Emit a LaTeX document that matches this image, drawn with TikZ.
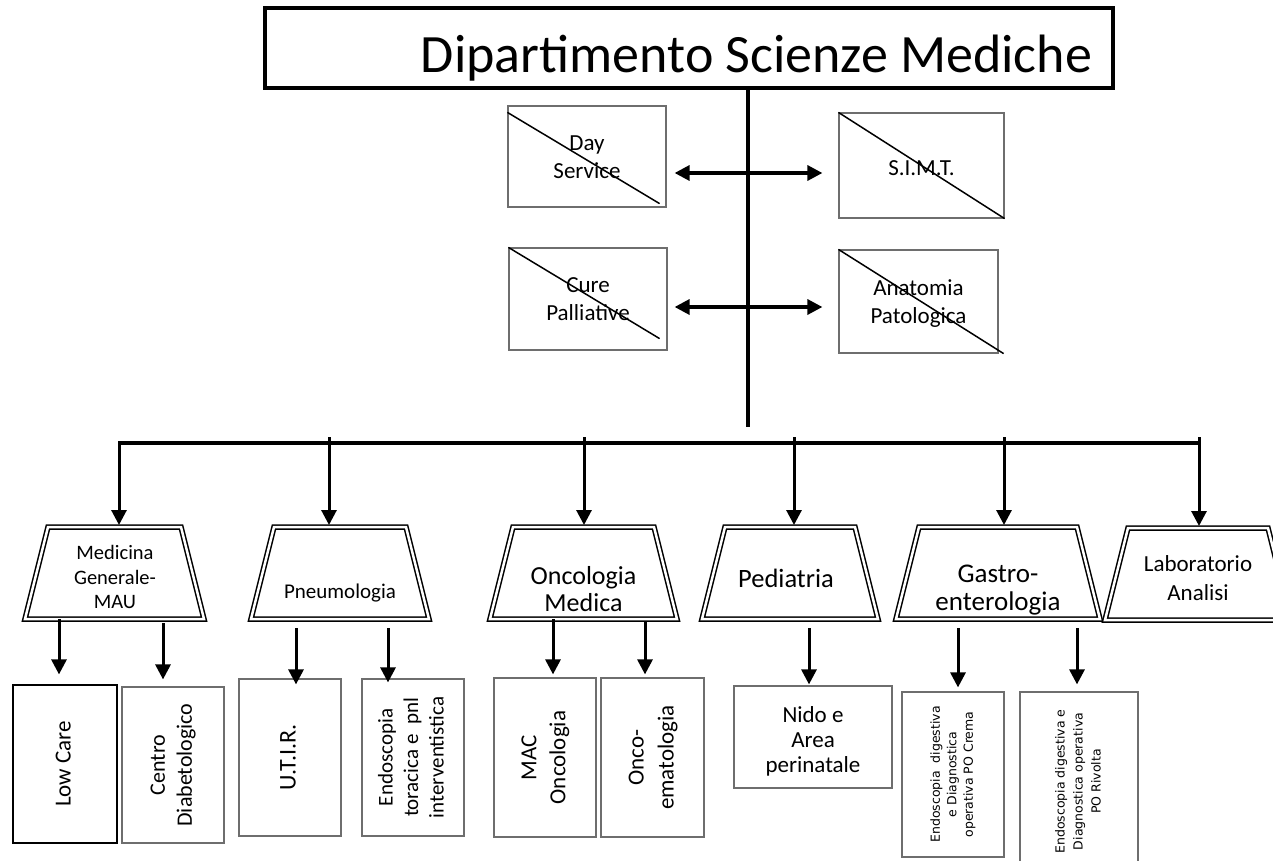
\documentclass[tikz,border=0pt]{standalone}
\usepackage{fontspec}
\usepackage{graphicx}
\setmainfont{Carlito}
\newfontfamily\widesans{DejaVu Sans}
\usetikzlibrary{arrows.meta,calc}
\definecolor{bordergray}{RGB}{110,110,110}
\newcommand{\vlabel}[1]{\rotatebox{90}{\begin{tabular}{@{}c@{}}#1\end{tabular}}}
\newcommand{\lowered}[2]{\raisebox{-#1}[\height][\depth]{\begin{tabular}{@{}c@{}}#2\end{tabular}}}
% name, centre x, centre y, half bottom width
\newcommand{\trapbox}[4]{%
  \coordinate (#1) at (#2,#3);
  \coordinate (#1-n) at (#2,#3-46);
  \coordinate (#1-s) at (#2,#3+46);
  \draw[trapline] (#2-#4+23,#3-46) -- (#2+#4-23,#3-46) -- (#2+#4,#3+46) -- (#2-#4,#3+46) -- cycle;
}
\begin{document}
\begin{tikzpicture}[x=1pt,y=-1pt,
  titlebox/.style={draw, line width=4pt, minimum width=848pt, minimum height=80pt, inner sep=0pt},
  crossbox/.style={draw=bordergray, line width=1.2pt, align=center, font=\fontsize{23}{28}\selectfont, inner sep=0pt},
  crossline/.style={line width=1.5pt},
  trapline/.style={draw, line width=1.5pt, double, double distance=2.5pt, line join=miter},
  traptext/.style={align=center, inner sep=0pt},
  leafbox/.style={draw=bordergray, line width=1.2pt, inner sep=0pt, align=center},
  vline/.style={line width=4.5pt},
  busline/.style={line width=4pt},
  arr/.style={line width=3pt, -{Triangle[width=15pt,length=15pt]}},
  darr/.style={line width=3.3pt, {Triangle[width=15pt,length=15pt]}-{Triangle[width=15pt,length=15pt]}},
]
\useasboundingbox (0,0) rectangle (1273,861);
\clip (0,0) rectangle (1273,861);
\fill[white] (0,0) rectangle (1273,861);

% title
\node[titlebox] (title) at (689,48) {};
\node[font=\fontsize{54}{64}\selectfont, anchor=base, inner sep=0pt] (titletext) at (756.5,73) {Dipartimento Scienze Mediche};

\coordinate (vend) at (748,427);
\draw[vline] (title.south -| vend) -- (vend);

% crossed boxes
\node[crossbox, minimum width=158pt, minimum height=101pt] (ds) at (587,156.5) {\lowered{2pt}{Day\\Service}};
\draw[crossline] ([yshift=-7pt]ds.north west) -- ([shift={(-7pt,4pt)}]ds.south east);
\node[crossbox, minimum width=165pt, minimum height=105pt] (simt) at (921.5,165.5) {\lowered{4pt}{S.I.M.T.}};
\draw[crossline] (simt.north west) -- (simt.south east);
\node[crossbox, minimum width=158pt, minimum height=102pt] (cp) at (588,299) {Cure\\Palliative};
\draw[crossline] (cp.north west) -- ([shift={(-8pt,12pt)}]cp.south east);
\node[crossbox, minimum width=159pt, minimum height=103pt] (ap) at (918.5,301.5) {\lowered{2pt}{Anatomia\\Patologica}};
\draw[crossline] (ap.north west) -- ([xshift=5pt]ap.south east);

\coordinate (a1) at (748,173);
\coordinate (a2) at (748,307);
\draw[darr] ($(a1 -| ds.east)+(8,0)$) -- ($(a1 -| simt.west)+(-16,0)$);
\draw[darr] ($(a2 -| cp.east)+(7,0)$) -- ($(a2 -| ap.west)+(-16,0)$);

% bus
\coordinate (busL) at (118,443);
\coordinate (busR) at (1201,443);
\draw[busline] (busL) -- (busR);

% trapezia
\trapbox{tMed}{114.5}{573}{89.5}
\trapbox{tPne}{340}{573}{89}
\trapbox{tOnc}{583.5}{573}{93.5}
\trapbox{tPed}{790}{573}{88}
\trapbox{tGas}{998}{573}{102}
\trapbox{tLab}{1198}{574}{93}

\node[traptext, font=\fontsize{20.5}{24.5}\selectfont] (med) at (115,577) {Medicina\\Generale-\\MAU};
\node[traptext, font=\fontsize{21}{25}\selectfont] (pne) at (340,593) {Pneumologia};
\node[traptext, font=\fontsize{26}{27}\selectfont] (onc) at (583.5,589) {Oncologia\\Medica};
\node[traptext, font=\fontsize{26.5}{30}\selectfont] (ped) at (786,578) {Pediatria};
\node[traptext, font=\fontsize{27}{28}\selectfont] (gas) at (998,590) {Gastro-\\enterologia};
\node[traptext, font=\fontsize{23}{29}\selectfont] (lab) at (1198,578) {Laboratorio\\Analisi};

% drops from bus
\coordinate (d1) at (119,441);
\coordinate (d2) at (329,437);
\coordinate (d3) at (584,437);
\coordinate (d4) at (794,437);
\coordinate (d5) at (1004,437);
\coordinate (d6) at (1199,437);
\draw[arr, shorten >=2pt] (d1) -- (tMed-n -| d1);
\draw[arr, shorten >=2pt] (d2) -- (tPne-n -| d2);
\draw[arr, shorten >=2pt] (d3) -- (tOnc-n -| d3);
\draw[arr, shorten >=2pt] (d4) -- (tPed-n -| d4);
\draw[arr, shorten >=2pt] (d5) -- (tGas-n -| d5);
\draw[arr, shorten >=2pt] (d6) -- (tLab-n -| d6);

% leaf boxes
\node[leafbox, draw=black, minimum width=104pt, minimum height=158pt, font=\fontsize{23}{28}\selectfont] (lowcare) at (65,764) {\vlabel{Low Care}};
\node[leafbox, minimum width=102pt, minimum height=156pt, font=\fontsize{22}{27}\selectfont] (centro) at (173,765) {\vlabel{Centro\\Diabetologico}};
\node[leafbox, minimum width=102pt, minimum height=157pt, font=\fontsize{24}{28}\selectfont] (utir) at (290,757.5) {\vlabel{U.T.I.R.}};
\node[leafbox, minimum width=102pt, minimum height=157pt, font=\fontsize{21}{25.5}\selectfont] (endot) at (413,757.5) {\vlabel{Endoscopia\\toracica e\ \ pnl\\interventistica}};
\node[leafbox, minimum width=102pt, minimum height=159pt, font=\fontsize{23}{29}\selectfont] (mac) at (545,757.5) {\vlabel{MAC\\Oncologia}};
\node[leafbox, minimum width=103pt, minimum height=159pt, font=\fontsize{23}{30}\selectfont] (oem) at (652.5,757.5) {\vlabel{Onco-\\ematologia}};
\node[leafbox, minimum width=158pt, minimum height=102pt, font=\fontsize{23}{25}\selectfont] (nido) at (813,737) {\lowered{5pt}{Nido e\\Area\\perinatale}};
\node[leafbox, minimum width=102pt, minimum height=165pt, font=\widesans\fontsize{12.5}{16.5}\selectfont] (crema) at (953,774.5) {\vlabel{Endoscopia\ \ digestiva\\e Diagnostica\\operativa PO Crema}};
\node[leafbox, minimum width=118pt, minimum height=179pt, font=\widesans\fontsize{12.5}{18}\selectfont] (rivolta) at (1079,781.5) {\vlabel{Endoscopia digestiva e\\Diagnostica operativa\\PO Rivolta}};

% arrows to leaf boxes
\coordinate (s1) at (59,0);
\coordinate (s2) at (163,0);
\coordinate (s3) at (296,0);
\coordinate (s4) at (388,0);
\coordinate (s5) at (553,0);
\coordinate (s6) at (645,0);
\coordinate (s7) at (809,0);
\coordinate (s8) at (958,0);
\coordinate (s9) at (1077,0);
\draw[arr, shorten >=10pt] (tMed-s -| s1) -- (lowcare.north -| s1);
\draw[arr, shorten <=4pt, shorten >=7pt] (tMed-s -| s2) -- (centro.north -| s2);
\draw[arr, shorten <=9pt, shorten >=-6pt] (tPne-s -| s3) -- (utir.north -| s3);
\draw[arr, shorten <=9pt, shorten >=-4pt] (tPne-s -| s4) -- (endot.north -| s4);
\draw[arr, shorten >=3pt] (tOnc-s -| s5) -- (mac.north -| s5);
\draw[arr, shorten <=2pt, shorten >=3pt] (tOnc-s -| s6) -- (oem.north -| s6);
\draw[arr, shorten <=9pt, shorten >=1pt] (tPed-s -| s7) -- (nido.north -| s7);
\draw[arr, shorten <=9pt, shorten >=4pt] (tGas-s -| s8) -- (crema.north -| s8);
\draw[arr, shorten <=9pt, shorten >=7pt] (tGas-s -| s9) -- (rivolta.north -| s9);
\end{tikzpicture}
\end{document}
